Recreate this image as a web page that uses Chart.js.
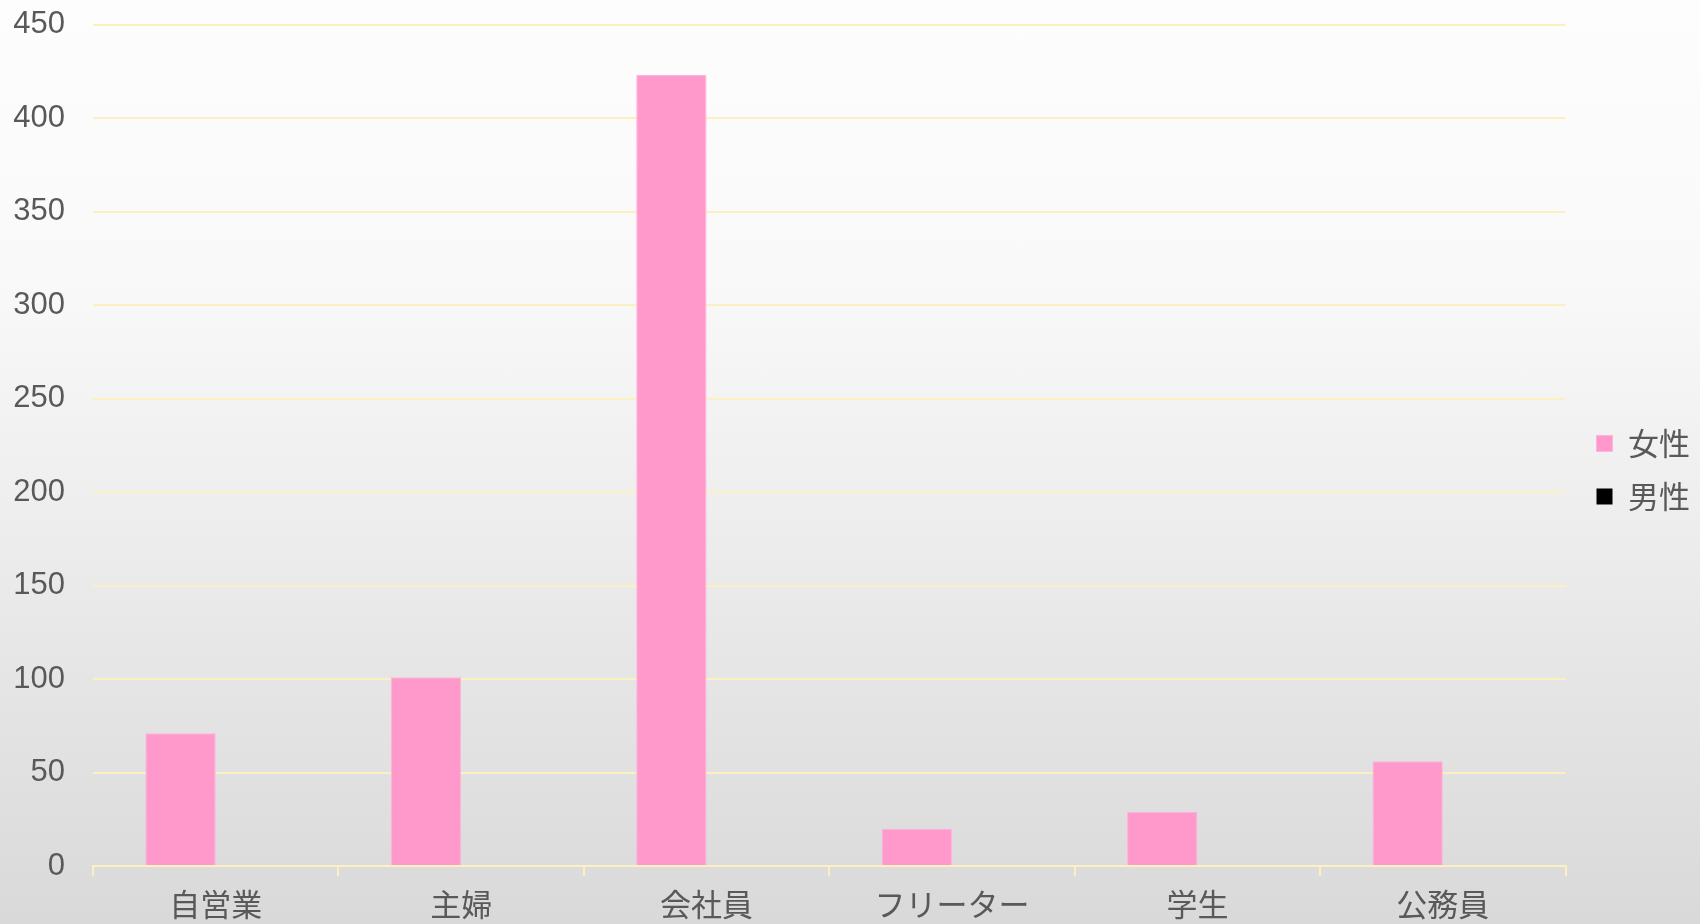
<!DOCTYPE html>
<html lang="ja">
<head>
<meta charset="utf-8">
<title>職業別</title>
<script src="https://cdn.jsdelivr.net/npm/chart.js@4/dist/chart.umd.min.js"></script>
<style>
  html, body { margin: 0; padding: 0; }
  #wrap {
    width: 1700px; height: 924px; position: relative; overflow: hidden;
    background: linear-gradient(to bottom, #fdfdfd 0%, #f9f9f9 30%, #eeeeee 55%, #d9d9d9 100%);
  }
</style>
</head>
<body>
<div id="wrap"><canvas id="barChart"></canvas></div>
<script>
// ============= データ =============
const categories = ["自営業", "主婦", "会社員", "フリーター", "学生", "公務員"];
const femaleValues = [71, 101, 423, 20, 29, 56];
const maleValues = [0, 0, 0, 0, 0, 0];
const yTicks = [0, 50, 100, 150, 200, 250, 300, 350, 400, 450];

const textColor = "#595959";
const gridColor = "#fcefc2";
const fontFamily = "'Liberation Sans', 'Noto Sans CJK JP', sans-serif";

// ============= グラフ =============
new Chart(document.getElementById("barChart"), {
  type: "bar",
  data: {
    labels: categories,
    datasets: [
      {
        label: "女性",
        data: femaleValues,
        backgroundColor: "#ff99cc",
        borderColor: "#ffb3d9",
        borderWidth: 1
      },
      {
        label: "男性",
        data: maleValues,
        backgroundColor: "#000000",
        borderColor: "#000000",
        borderWidth: 0
      }
    ]
  },
  options: {
    responsive: true,
    maintainAspectRatio: false,
    animation: false,
    // 下のラベルは元の図と同じく少し切れる
    layout: { padding: { top: 2, left: 0, right: 0, bottom: -14 } },
    datasets: {
      bar: { categoryPercentage: 0.573, barPercentage: 1 }
    },
    plugins: {
      tooltip: { enabled: false },
      legend: {
        position: "right",
        labels: {
          color: textColor,
          boxWidth: 16,
          boxHeight: 16,
          padding: 22,
          font: { family: "'Noto Sans CJK JP', sans-serif", size: 31 }
        }
      }
    },
    scales: {
      x: {
        offset: true,
        grid: {
          offset: true,
          drawOnChartArea: false,
          drawTicks: true,
          tickLength: 10,
          color: gridColor,
          lineWidth: 2
        },
        border: { display: true, color: gridColor, width: 2 },
        ticks: {
          color: textColor,
          padding: 13,
          maxRotation: 0,
          font: { family: fontFamily, size: 31, lineHeight: 1.16 }
        }
      },
      y: {
        min: 0,
        max: 450,
        afterFit: s => { s.width = 93; },
        afterBuildTicks: s => { s.ticks = yTicks.map(v => ({ value: v })); },
        grid: {
          color: gridColor,
          lineWidth: 2,
          drawTicks: true,
          tickLength: 22,
          tickColor: "rgba(0,0,0,0)"
        },
        border: { display: false },
        ticks: {
          color: textColor,
          padding: 6,
          font: { family: fontFamily, size: 31 }
        }
      },
      gap: {
        type: "linear",
        position: "right",
        display: true,
        afterFit: s => { s.width = 9; },
        grid: { display: false },
        border: { display: false },
        ticks: { display: false }
      }
    }
  }
});
</script>
</body>
</html>
